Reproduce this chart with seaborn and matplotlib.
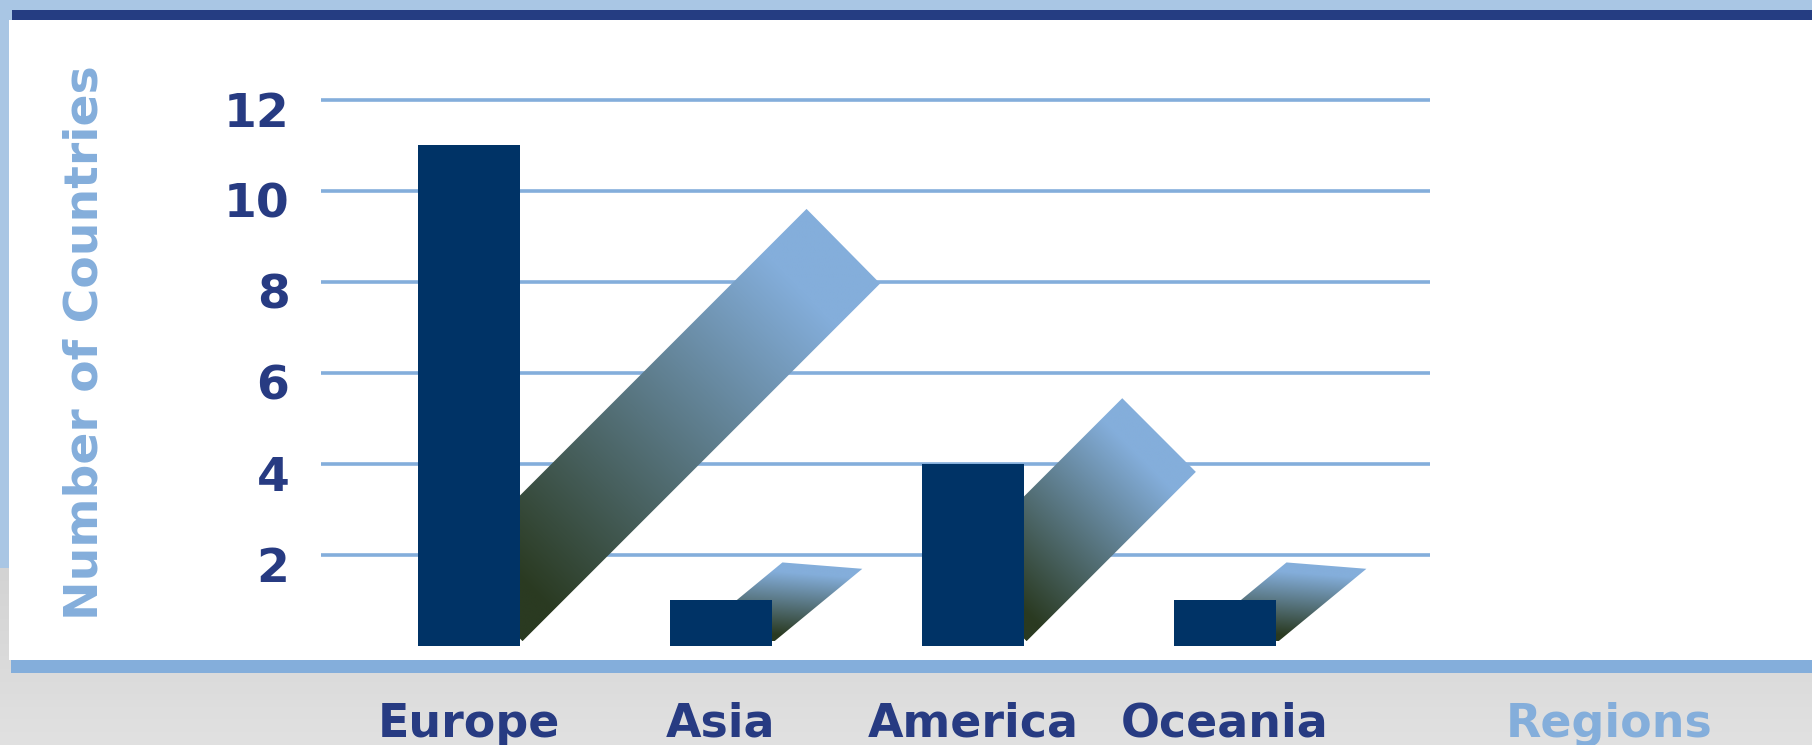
import numpy as np
import pandas as pd
import matplotlib
matplotlib.use("Agg")
import matplotlib.pyplot as plt
from matplotlib.patches import Polygon, Rectangle
from matplotlib.colors import LinearSegmentedColormap
from matplotlib.transforms import ScaledTranslation
import seaborn as sns

# ---- data -----------------------------------------------------------------
regions = ["Europe", "Asia", "America", "Oceania"]
countries = [11, 1, 4, 1]
ribbon_peak = [9.6, 1.83, 5.44, 1.83]        # value at the tip of each ribbon
ribbon_shoulder = [7.96, 1.69, 3.82, 1.69]   # value at the outer corner of the tip
y_ticks = [2, 4, 6, 8, 10, 12]

# ---- style ----------------------------------------------------------------
W, H, DPI = 1812, 745, 100
BAR_NAVY = "#003366"
TEXT_NAVY = "#273b82"
SKY = "#84aedb"
PALE = "#a9c6e4"
BAND_NAVY = "#253d82"
OLIVE = "#2a3a21"

BAR_WIDTH = 0.405
RIBBON_ANGLE = [45.0, 39.5, 45.0, 39.5]   # slope of each ribbon on screen (deg)
RIBBON_CUT = [0.292, 0.317, 0.292, 0.317]  # set-back of the tip, category units
RIBBON_BASE = 0.1
RIBBON_SHIFT = 0.01

sns.set_theme(style="white")
plt.rcParams["font.family"] = ["DejaVu Sans"]
plt.rcParams["font.weight"] = "bold"

fig = plt.figure(figsize=(W / DPI, H / DPI), dpi=DPI)
fig.patch.set_facecolor(PALE)

# ---- slide background (pixel coordinates) ---------------------------------
bg = fig.add_axes([0, 0, 1, 1], zorder=0)
bg.axis("off")
grey_cmap = LinearSegmentedColormap.from_list("grey", ["#d3d3d3", "#e1e1e1"])
bg.imshow(np.linspace(0, 1, 200)[:, None], extent=(0, W, H, 568),
          cmap=grey_cmap, aspect="auto", origin="upper")
bg.add_patch(Rectangle((0, 0), W, 568, color=PALE, lw=0))
bg.add_patch(Rectangle((8.5, 20), W, 640, color="white", lw=0))
bg.add_patch(Rectangle((11.5, 10), W, 10, color=BAND_NAVY, lw=0))
bg.add_patch(Rectangle((11, 660), W, 13, color=SKY, lw=0))
bg.set_xlim(0, W)
bg.set_ylim(H, 0)

# ---- chart ----------------------------------------------------------------
ax = fig.add_axes([321 / W, (H - 660) / H, (1430 - 321) / W, 640 / H], zorder=1)
ax.set_facecolor("none")

df = pd.DataFrame({"Region": regions, "Countries": countries})
sns.barplot(data=df, x="Region", y="Countries", color=BAR_NAVY, saturation=1,
            width=BAR_WIDTH, errorbar=None, ax=ax, zorder=3,
            edgecolor="none", linewidth=0)

XLIM = (-0.587, 3.813)
YLIM = (-0.3143, 13.752)
ax.set_xlim(*XLIM)
ax.set_ylim(*YLIM)

# ribbons with a linear gradient running toward the cut tip
ribbon_cmap = LinearSegmentedColormap.from_list("ribbon", [OLIVE, SKY])
T = ax.transData
Tinv = T.inverted()
for i, (peak, shoulder) in enumerate(zip(ribbon_peak, ribbon_shoulder)):
    Bd = T.transform((i + BAR_WIDTH / 2 + RIBBON_SHIFT, RIBBON_BASE))
    Ry = T.transform((0, shoulder))[1]
    Ay = T.transform((0, peak))[1]
    dy = Ry - Bd[1]
    Rd = np.array([Bd[0] + dy / np.tan(np.radians(RIBBON_ANGLE[i])), Ry])
    cut_px = T.transform((RIBBON_CUT[i], 0))[0] - T.transform((0, 0))[0]
    Ad = np.array([Rd[0] - cut_px, Ay])
    Dd = Bd + Ad - Rd
    verts_d = np.array([Bd, Rd, Ad, Dd])

    edge = Rd - Ad
    n = np.array([-edge[1], edge[0]])
    if np.dot(n, Ad - Bd) < 0:
        n = -n
    n = n / np.linalg.norm(n)
    proj = verts_d @ n
    pmin, pmax = proj.min(), proj.max()

    x0, y0 = verts_d.min(axis=0)
    x1, y1 = verts_d.max(axis=0)
    gx, gy = np.meshgrid(np.linspace(x0, x1, 400), np.linspace(y0, y1, 400))
    t = ((gx * n[0] + gy * n[1]) - pmin) / (pmax - pmin)
    f = np.clip(1.25 * t - 0.1, 0, 1)

    verts = Tinv.transform(verts_d)
    (dx0, dy0), (dx1, dy1) = Tinv.transform([(x0, y0), (x1, y1)])
    poly = Polygon(verts, closed=True, transform=ax.transData)
    im = ax.imshow(f, extent=(dx0, dx1, dy0, dy1), origin="lower",
                   cmap=ribbon_cmap, vmin=0, vmax=1, aspect="auto",
                   interpolation="bilinear", zorder=2)
    im.set_clip_path(poly)

ax.set_xlim(*XLIM)
ax.set_ylim(*YLIM)

# grid and axes
ax.set_yticks(y_ticks)
ax.set_axisbelow(True)
ax.yaxis.grid(True, color=SKY, lw=2.6)
ax.xaxis.grid(False)
for s in ax.spines.values():
    s.set_visible(False)

ax.tick_params(axis="y", length=0, pad=22.7, labelsize=34, labelcolor=TEXT_NAVY)
ax.tick_params(axis="x", length=0, pad=55.4, labelsize=33, labelcolor=TEXT_NAVY)
ax.set_xticks(range(len(regions)))
ax.set_xticklabels(regions)
for lbl in ax.get_xticklabels():
    lbl.set_va("baseline")
    lbl.set_fontweight("bold")
shift = ScaledTranslation(0, -7 / 72, fig.dpi_scale_trans)
for lbl in ax.get_yticklabels():
    lbl.set_fontweight("bold")
    lbl.set_transform(lbl.get_transform() + shift)

ax.set_ylabel("Number of Countries", color=SKY, fontsize=34,
              fontweight="bold", va="center")
ax.yaxis.set_label_coords((84.7 - 321) / 1109, (660 - 342.5) / 640)
ax.set_xlabel("Regions", color=SKY, fontsize=33, fontweight="bold",
              va="baseline", ha="center")
ax.xaxis.set_label_coords((1609 - 321) / 1109, -77 / 640)

fig.savefig("out.png", dpi=DPI, facecolor=fig.get_facecolor())
